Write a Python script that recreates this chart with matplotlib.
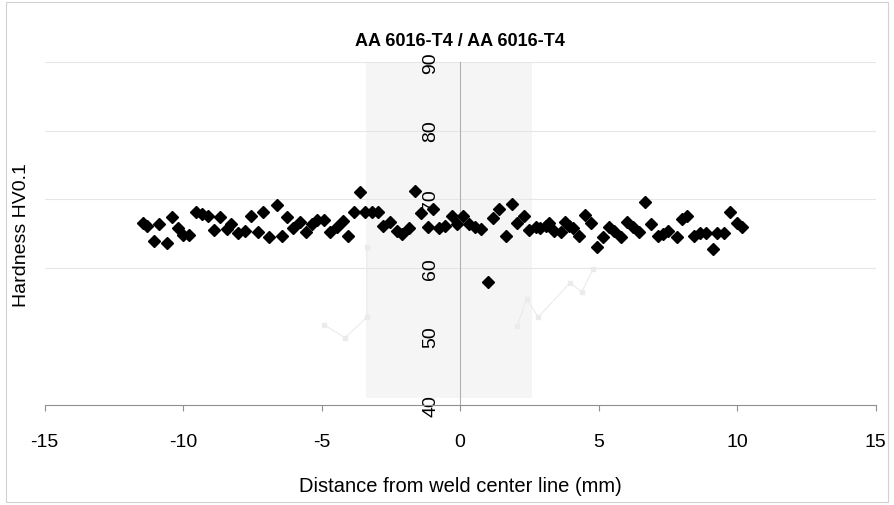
import matplotlib
matplotlib.use("Agg")
import matplotlib.pyplot as plt
from matplotlib.patches import Rectangle

plt.rcParams['font.family'] = ['Liberation Sans', 'DejaVu Sans']
plt.rcParams['axes.unicode_minus'] = False

# hardness profile
distance = [-11.44, -11.30, -11.05, -10.87, -10.58, -10.40, -10.18, -10.00, -9.78, -9.53,
            -9.31, -9.10, -8.88, -8.66, -8.41, -8.27, -8.01, -7.76, -7.55, -7.29,
            -7.11, -6.90, -6.61, -6.43, -6.25, -6.03, -5.78, -5.56, -5.34, -5.16,
            -4.91, -4.69, -4.44, -4.22, -4.04, -3.83, -3.61, -3.43, -3.18, -2.96,
            -2.78, -2.53, -2.27, -2.09, -1.84, -1.62, -1.41, -1.16, -0.97, -0.76,
            -0.54, -0.29, -0.11, 0.11, 0.32, 0.54, 0.76, 1.01, 1.19, 1.41,
            1.66, 1.88, 2.06, 2.31, 2.49, 2.74, 2.89, 3.10, 3.21, 3.39,
            3.65, 3.79, 3.94, 4.08, 4.30, 4.51, 4.73, 4.95, 5.16, 5.38,
            5.56, 5.81, 6.03, 6.25, 6.46, 6.68, 6.90, 7.15, 7.33, 7.51,
            7.83, 8.01, 8.19, 8.45, 8.66, 8.88, 9.13, 9.28, 9.53, 9.75,
            10.00, 10.18]
hardness = [66.5, 66.1, 63.9, 66.4, 63.6, 67.4, 65.8, 64.8, 64.8, 68.1,
            67.8, 67.6, 65.5, 67.4, 65.7, 66.4, 65.1, 65.4, 67.6, 65.2,
            68.1, 64.5, 69.2, 64.6, 67.4, 65.8, 66.7, 65.2, 66.4, 67.0,
            67.0, 65.2, 65.9, 66.8, 64.6, 68.1, 71.0, 68.1, 68.1, 68.1,
            66.1, 66.7, 65.4, 64.9, 65.8, 71.2, 68.0, 65.9, 68.6, 65.8,
            66.1, 67.6, 66.4, 67.6, 66.4, 65.9, 65.7, 57.9, 67.3, 68.6,
            64.6, 69.3, 66.5, 67.6, 65.5, 65.9, 65.8, 66.1, 66.5, 65.4,
            65.2, 66.7, 66.1, 65.8, 64.6, 67.7, 66.5, 63.0, 64.5, 65.9,
            65.4, 64.5, 66.7, 65.9, 65.2, 69.6, 66.4, 64.6, 64.9, 65.4,
            64.5, 67.1, 67.6, 64.6, 65.1, 65.1, 62.7, 65.1, 65.1, 68.1,
            66.5, 65.9]

# faint ghost profile showing through the scan
ghost_x = [-4.91, -4.15, -3.36, -3.36]
ghost_y = [51.7, 49.8, 52.8, 63.0]
ghost2_x = [2.06, 2.42, 2.82, 3.97, 4.4, 4.8]
ghost2_y = [51.5, 55.5, 52.8, 57.8, 56.5, 59.8]

xticks = [-15, -10, -5, 0, 5, 10, 15]
yticks = [40, 50, 60, 70, 80, 90]

fig = plt.figure(figsize=(8.94, 5.06), dpi=100)
ax = fig.add_axes([44.5 / 894, 100 / 506, 831 / 894, 343 / 506])

# outer chart border
fig.patches.append(Rectangle((6 / 894, 3 / 506), 882 / 894, 500 / 506, transform=fig.transFigure,
                             fill=False, edgecolor='#d0d0d0', linewidth=0.8))

# micrograph overlay (approximated as a light panel)
ax.add_patch(Rectangle((-3.4, 41), 6.0, 49, facecolor='#f5f5f5', edgecolor='none', zorder=0))

for y in [60, 70, 80, 90]:
    ax.axhline(y, color='#e6e6e6', linewidth=0.8, zorder=1)

ax.plot(ghost_x, ghost_y, color='#ebebeb', marker='s', markersize=3, linewidth=0.8, zorder=1)
ax.plot(ghost2_x, ghost2_y, color='#ebebeb', marker='s', markersize=3, linewidth=0.8, zorder=1)

ax.plot(distance, hardness, linestyle='none', marker='D', markersize=5.8, color='black', zorder=3)

ax.set_xlim(-15, 15)
ax.set_ylim(40, 90)
ax.set_xticks(xticks)
ax.set_yticks(yticks)

ax.spines['left'].set_position(('data', 0))
ax.spines['left'].set_color('#b0b0b0')
ax.spines['bottom'].set_color('#909090')
ax.spines['top'].set_visible(False)
ax.spines['right'].set_visible(False)

ax.tick_params(axis='x', direction='out', length=4, color='#909090', pad=16, labelsize=14)
ax.tick_params(axis='y', length=0, pad=15, labelsize=14)
for lab in ax.get_yticklabels():
    lab.set_rotation(90)
    lab.set_va('center')

ax.set_title('AA 6016-T4 / AA 6016-T4', fontsize=13, fontweight='bold', pad=12)
ax.set_xlabel('Distance from weld center line (mm)', fontsize=14.5, labelpad=19)
fig.text(22 / 894, 1 - 235 / 506, 'Hardness HV0.1', rotation=90, fontsize=14,
         ha='center', va='center')

fig.savefig('out.png', dpi=100)
